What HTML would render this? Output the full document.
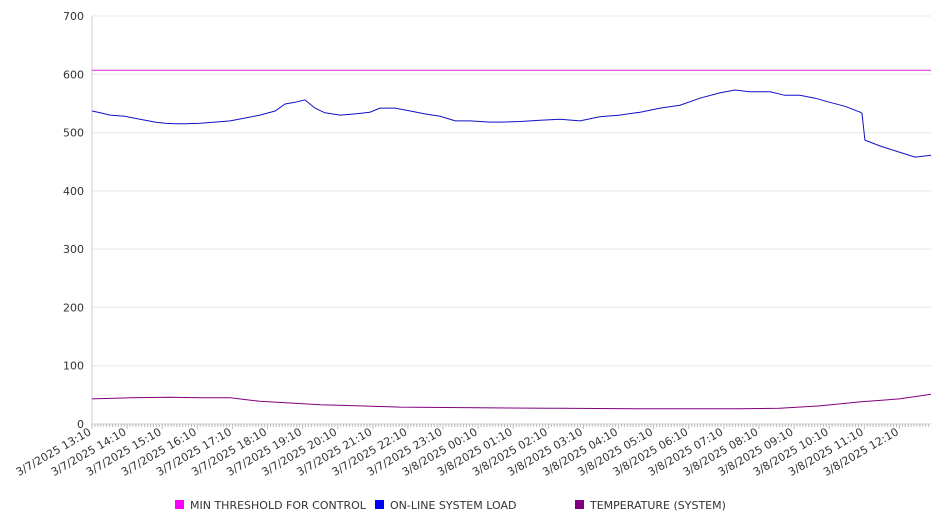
<!DOCTYPE html>
<html><head><meta charset="utf-8"><style>
body{margin:0;background:#fff;font-family:"DejaVu Sans","Liberation Sans",sans-serif;}
svg text{font-family:"DejaVu Sans","Liberation Sans",sans-serif;fill:#333;}
</style></head><body>
<svg id="chart" width="946" height="526"></svg>
<script>
const yTicks=[0,100,200,300,400,500,600,700];
const xLabels=["3/7/2025 13:10","3/7/2025 14:10","3/7/2025 15:10","3/7/2025 16:10","3/7/2025 17:10","3/7/2025 18:10","3/7/2025 19:10","3/7/2025 20:10","3/7/2025 21:10","3/7/2025 22:10","3/7/2025 23:10","3/8/2025 00:10","3/8/2025 01:10","3/8/2025 02:10","3/8/2025 03:10","3/8/2025 04:10","3/8/2025 05:10","3/8/2025 06:10","3/8/2025 07:10","3/8/2025 08:10","3/8/2025 09:10","3/8/2025 10:10","3/8/2025 11:10","3/8/2025 12:10"];
const thresholdTimes=[0,1434];
const thresholdValues=[607,607];
const loadTimes=[0,14,31,56,82,108,125,142,159,185,210,236,262,287,313,330,347,364,381,398,424,450,475,492,518,544,569,595,621,646,680,698,732,766,800,834,868,902,937,971,1005,1039,1073,1099,1124,1159,1184,1210,1236,1261,1287,1313,1316,1321,1347,1381,1407,1434];
const loadValues=[537,534,530,528,523,518,516,515,515,516,518,520,525,530,537,549,552,556,542,534,530,532,535,542,542,537,532,528,520,520,518,518,519,521,523,520,527,530,535,542,547,559,568,573,570,570,564,564,559,552,545,535,533,487,477,466,458,461];
const tempTimes=[0,65,133,185,236,287,338,390,458,526,782,799,953,1107,1175,1244,1312,1380,1434];
const tempValues=[43,45,46,45,45,39,36,33,31,29,27,27,26,26,27,31,38,43,51];
const L=92,R=931,T=16,B=424,XMAX=1434,YMAX=700;
const sx=t=>L+(R-L)*t/XMAX, sy=v=>B-(B-T)*v/YMAX;
const svg=document.getElementById('chart');const NS='http://www.w3.org/2000/svg';
function mk(tag,a,p){const e=document.createElementNS(NS,tag);for(const k in a)e.setAttribute(k,a[k]);(p||svg).appendChild(e);return e;}
yTicks.forEach(v=>{
 const g=mk('line',{x1:L,x2:R,y1:sy(v),y2:sy(v),stroke:v===0?'#ccc':'#e8e8e8','stroke-width':1});
 
 
 const t=mk('text',{x:L-8,y:sy(v)+4,'text-anchor':'end','font-size':11});t.textContent=v;
 
 
});
const ax=mk('line',{x1:L,x2:L,y1:T,y2:B,stroke:'#ccc'});


for(let m=0;m<=XMAX;m+=5){const tk=mk('line',{x1:sx(m),x2:sx(m),y1:B,y2:B+(m%60===0?5:3),stroke:'#bbb'});
 
 }
xLabels.forEach((s,i)=>{const x=sx(i*60);
 const t=mk('text',{x:x,y:B+10,'text-anchor':'end','font-size':11,transform:`rotate(-30 ${x} ${B+10})`});t.textContent=s;
 
 });
function line(ts,vs,color,name){const d=ts.map((t,i)=>(i?'L':'M')+sx(t).toFixed(1)+' '+sy(vs[i]).toFixed(1)).join(' ');
 const p=mk('path',{d:d,fill:'none',stroke:color,'stroke-width':1});
 
 }
line(thresholdTimes,thresholdValues,'#e020e0','threshold-line');
line(loadTimes,loadValues,'#1010c8','load-line');
line(tempTimes,tempValues,'#800080','temperature-line');
const leg=[['MIN THRESHOLD FOR CONTROL','#f0f',175],['ON-LINE SYSTEM LOAD','#00f',375],['TEMPERATURE (SYSTEM)','#800080',575]];
leg.forEach(l=>{const g=mk('g',{});
 
 
 mk('rect',{x:l[2],y:500,width:9,height:9,fill:l[1]},g);
 const t=mk('text',{x:l[2]+15,y:509,'font-size':11},g);t.textContent=l[0];});
</script>
</body></html>
